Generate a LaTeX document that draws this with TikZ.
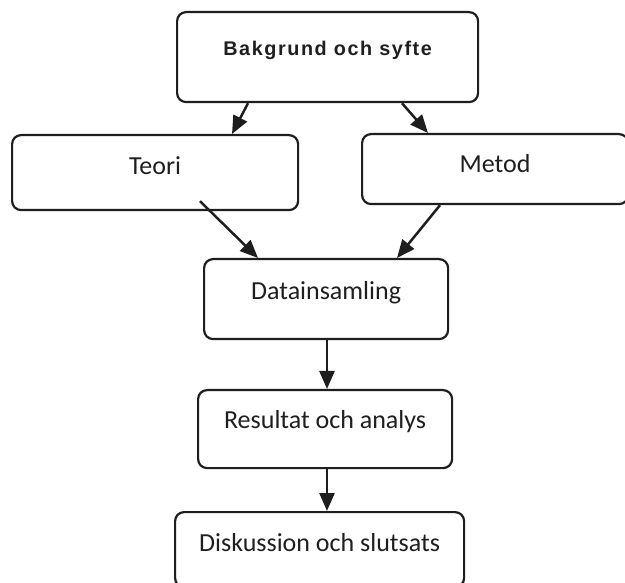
\documentclass[tikz,border=0pt]{standalone}
\usepackage{fontspec}
\setmainfont{Carlito}
\newfontfamily\topfont[LetterSpace=8]{Liberation Sans Bold}
\usetikzlibrary{arrows.meta,calc}
\definecolor{linec}{HTML}{1E1E1E}
\begin{document}
\begin{tikzpicture}[x=1pt,y=-1pt,
  boxst/.style={draw=linec,line width=2.2pt,rounded corners=9pt,inner sep=0pt,anchor=north west,align=center,fill=white},
  arr/.style={draw=linec,line width=2.5pt,-{Triangle[length=18pt,width=15pt]}},
  txt/.style={font=\fontsize{26}{30}\selectfont,text=black!88}]
\useasboundingbox (0,0) rectangle (625,583);
\node[boxst,minimum width=301pt,text height=43pt,text depth=47pt,font=\topfont\fontsize{19.8}{22}\selectfont,text=black!88] (top) at (176,11) {Bakgrund och syfte};
\node[boxst,txt,minimum width=286pt,text height=39pt,text depth=36pt] (teori) at (11,134) {Teori};
\node[boxst,txt,minimum width=266pt,text height=38pt,text depth=32pt] (metod) at (361,133) {Metod};
\node[boxst,txt,minimum width=244pt,text height=40pt,text depth=40pt] (data) at (203,258) {Datainsamling};
\node[boxst,txt,minimum width=254pt,text height=38pt,text depth=40pt] (res) at (197,389) {Resultat och analys};
\node[boxst,txt,minimum width=289pt,text height=39pt,text depth=36pt] (disk) at (174,511) {Diskussion och slutsats};
\draw[arr] ($(top.south west)+(72,0)$) -- ($(teori.north west)+(221,0)$);
\draw[arr] ($(top.south west)+(226,0)$) -- ($(metod.north west)+(67,0)$);
\draw[arr] ($(teori.south west)+(189,-10)$) -- ($(data.north west)+(55,0)$);
\draw[arr] ($(metod.south west)+(79,0)$) -- ($(data.north west)+(194,0)$);
\draw[arr] ($(data.south west)+(124,0)$) -- ($(res.north west)+(130,0)$);
\draw[arr] ($(res.south west)+(130,0)$) -- ($(disk.north west)+(153,0)$);
\end{tikzpicture}
\end{document}
